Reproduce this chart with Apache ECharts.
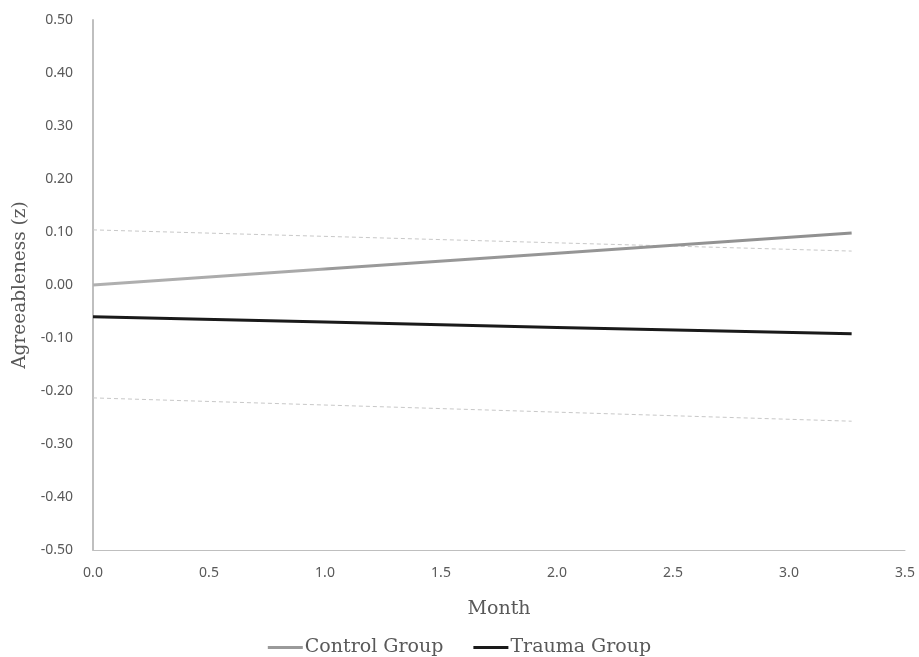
<!DOCTYPE html>
<html>
<head>
<meta charset="utf-8">
<script src="https://cdn.jsdelivr.net/npm/echarts@6/dist/echarts.min.js"></script>
<style>html,body{margin:0;padding:0;background:#fff}#c{width:919px;height:657px}</style>
</head>
<body>
<div id="c"></div>
<script>
var months = [0, 1, 2, 3.27];
var controlGroup = [0.000, 0.030, 0.060, 0.098];
var traumaGroup = [-0.060, -0.070, -0.080, -0.092];
var ciUpperX = [0, 3.27];
var ciUpper = [0.104, 0.064];
var ciLowerX = [0, 3.27];
var ciLower = [-0.213, -0.257];
var xTicks = [0, 0.5, 1, 1.5, 2, 2.5, 3, 3.5];
var yTicks = [-0.5, -0.4, -0.3, -0.2, -0.1, 0, 0.1, 0.2, 0.3, 0.4, 0.5];

function pairs(xs, ys){ return xs.map(function(x,i){ return [x, ys[i]]; }); }

var serif = '"DejaVu Serif", "Liberation Serif", serif';
var sans = '"Noto Sans", "Open Sans", sans-serif';

var chart = echarts.init(document.getElementById('c'));
chart.setOption({
  animation: false,
  backgroundColor: '#fff',
  grid: { left: 93, right: 14, top: 20, bottom: 107, outerBoundsMode: 'none', containLabel: false },
  legend: {
    data: ['Control Group', 'Trauma Group'],
    top: 633, left: 'center',
    icon: 'rect', itemWidth: 35, itemHeight: 3, itemGap: 30,
    textStyle: { fontFamily: serif, fontSize: 19, color: '#595959', padding: [0,0,0,-3] }
  },
  xAxis: {
    type: 'value', min: 0, max: 3.5, interval: 0.5,
    name: 'Month', nameLocation: 'middle', nameGap: 50,
    nameTextStyle: { fontFamily: serif, fontSize: 19, color: '#595959' },
    axisLine: { show: true, onZero: false, lineStyle: { color: '#bfbfbf', width: 1 } },
    axisTick: { show: false },
    splitLine: { show: false },
    axisLabel: { fontFamily: sans, fontSize: 14, color: '#595959', margin: 16,
      formatter: function(v){ return v.toFixed(1); } }
  },
  yAxis: {
    type: 'value', min: -0.5, max: 0.5, interval: 0.1,
    name: 'Agreeableness (z)', nameLocation: 'middle', nameGap: 61, nameRotate: 90,
    nameTextStyle: { fontFamily: serif, fontSize: 18.5, color: '#595959' },
    axisLine: { show: true, onZero: false, lineStyle: { color: '#bfbfbf', width: 2 } },
    axisTick: { show: false },
    splitLine: { show: false },
    axisLabel: { fontFamily: sans, fontSize: 14, color: '#595959', margin: 20,
      formatter: function(v){ return v.toFixed(2); } }
  },
  series: [
    { name: 'CI upper', type: 'line', data: pairs(ciUpperX, ciUpper), showSymbol: false, silent: true,
      lineStyle: { color: '#c8c8c8', width: 1, type: [4, 3] } },
    { name: 'CI lower', type: 'line', data: pairs(ciLowerX, ciLower), showSymbol: false, silent: true,
      lineStyle: { color: '#c8c8c8', width: 1, type: [4, 3] } },
    { name: 'Control Group', type: 'line', data: pairs(months, controlGroup), showSymbol: false,
      itemStyle: { color: '#9a9a9a' },
      lineStyle: { width: 3, color: { type: 'linear', x: 0, y: 0, x2: 1, y2: 0,
        colorStops: [{offset: 0, color: '#b0b0b0'}, {offset: 0.3, color: '#a8a8a8'}, {offset: 0.31, color: '#9a9a9a'}, {offset: 1, color: '#909090'}] } } },
    { name: 'Trauma Group', type: 'line', data: pairs(months, traumaGroup), showSymbol: false,
      itemStyle: { color: '#1a1a1a' },
      lineStyle: { width: 3, color: '#1a1a1a' } }
  ]
});
</script>
</body>
</html>
